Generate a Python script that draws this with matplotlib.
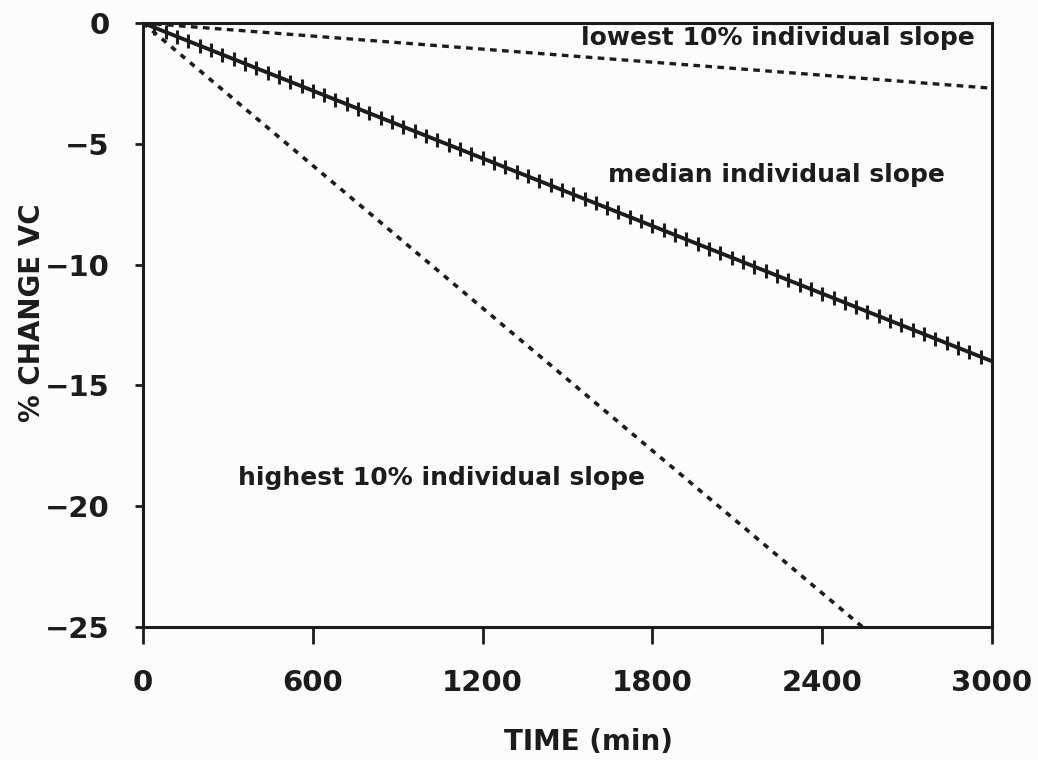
import numpy as np
import matplotlib
matplotlib.use("Agg")
import matplotlib.pyplot as plt

# slope lines: % change in VC at the end of the 3000 min window
time_end = 3000
end_lowest = -2.7
end_median = -14.0
end_highest = -29.5   # runs off the bottom of the axis near 2540 min

labels = ["lowest 10% individual slope",
          "median individual slope",
          "highest 10% individual slope"]

x_ticks = [0, 600, 1200, 1800, 2400, 3000]
y_ticks = [0, -5, -10, -15, -20, -25]

ink = "#1c1c1c"
plt.rcParams["font.family"] = "DejaVu Sans"
plt.rcParams["font.weight"] = "bold"

fig = plt.figure(figsize=(10.38, 7.6), dpi=100, facecolor="#fcfcfc")
ax = fig.add_axes([0.1378, 0.175, 0.8179, 0.7947], facecolor="#fcfcfc")

# sample times along each line (markers on the median every 40 min)
t = np.linspace(0, time_end, 76)

ax.plot(t, end_lowest / time_end * t, color=ink, lw=2.4,
        linestyle=(0, (2.0, 1.6)))
ax.plot(t, end_highest / time_end * t, color=ink, lw=2.6,
        linestyle=(0, (1.6, 1.8)))
ax.plot(t, end_median / time_end * t, color=ink, lw=2.8,
        marker="|", markersize=10, markeredgewidth=2.2)

ax.text(2940, -0.6, labels[0], ha="right", va="center",
        fontsize=18, color=ink, fontweight="bold")
ax.text(2834, -6.3, labels[1], ha="right", va="center",
        fontsize=18, color=ink, fontweight="bold")
ax.text(336, -18.85, labels[2], ha="left", va="center",
        fontsize=18, color=ink, fontweight="bold")

ax.set_xlim(0, 3000)
ax.set_ylim(-25, 0)
ax.set_xticks(x_ticks)
ax.set_yticks(y_ticks)
ax.set_yticklabels(["0" if v == 0 else "\u2212%d" % abs(v) for v in y_ticks])

for s in ax.spines.values():
    s.set_linewidth(2.2)
    s.set_color(ink)

ax.tick_params(axis="x", direction="out", length=12, width=2, pad=18,
               labelsize=21, colors=ink)
ax.tick_params(axis="y", direction="out", length=6, width=2, pad=18,
               labelsize=21, colors=ink)

ax.set_xlabel("TIME (min)", fontsize=20, fontweight="bold", color=ink)
ax.xaxis.set_label_coords(0.525, -0.168)
ax.set_ylabel("% CHANGE VC", fontsize=20, fontweight="bold", color=ink)
ax.yaxis.set_label_coords(-0.114, 0.52)

fig.savefig("out.png", dpi=100, facecolor=fig.get_facecolor())
